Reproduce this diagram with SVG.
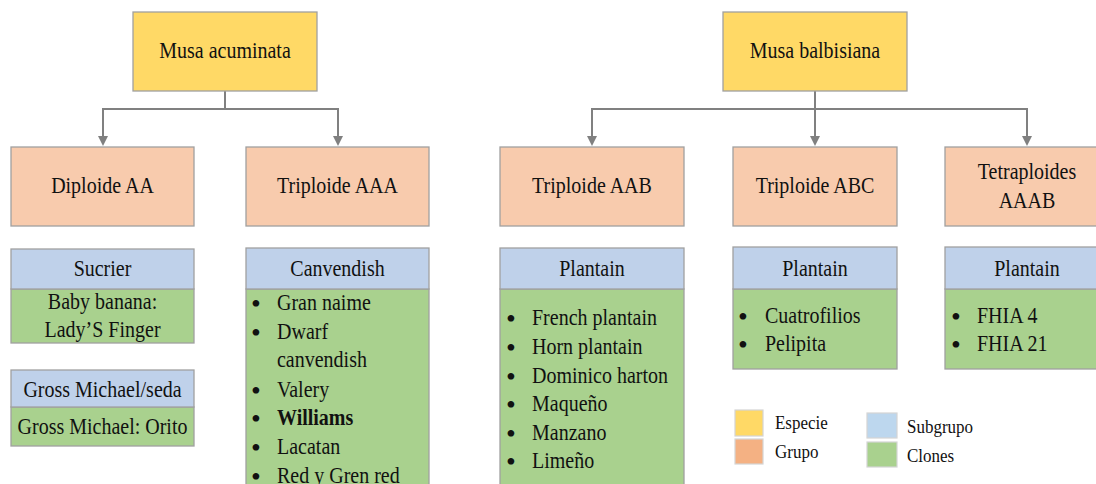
<svg xmlns="http://www.w3.org/2000/svg" width="1096" height="484" viewBox="0 0 1096 484" font-family="'Liberation Serif', 'DejaVu Serif', serif">
  <defs>
    <style>
      .box { stroke: #a0a0a0; stroke-width: 1.3; }
      .especie { fill: #ffd966; }
      .grupo { fill: #f8cbad; }
      .sub { fill: #bfd1ea; }
      .clon { fill: #a9d18e; }
      text { font-family: 'Liberation Serif', 'DejaVu Serif', serif; font-size: 20px; fill: #111; }
      .c { text-anchor: middle; }
      .b { text-anchor: middle; font-size: 28px; }
      .bold { font-weight: bold; }
      .leg { font-size: 17px; }
      .sw { stroke: #d4d4d4; stroke-width: 1.2; }
      .conn { fill: none; stroke: #808080; stroke-width: 2; }
    </style>
    <marker id="arrow" markerUnits="userSpaceOnUse" markerWidth="10" markerHeight="10" refX="4" refY="5" orient="auto">
      <path d="M0,0 L10,5 L0,10 z" fill="#808080"/>
    </marker>
  </defs>
  <rect width="1096" height="484" fill="#ffffff"/>

  <!-- connectors -->
  <g id="connectors">
    <path class="conn" d="M225,91 V109 H103 V140" marker-end="url(#arrow)"/>
    <path class="conn" d="M225,91 V109 H338 V140" marker-end="url(#arrow)"/>
    <path class="conn" d="M815,91 V109 H592 V140" marker-end="url(#arrow)"/>
    <path class="conn" d="M815,91 V140" marker-end="url(#arrow)"/>
    <path class="conn" d="M815,91 V109 H1027 V140" marker-end="url(#arrow)"/>
  </g>

  <!-- species -->
  <g id="musa-acuminata">
    <rect class="box especie" x="133" y="12" width="184" height="79"/>
    <text class="c" transform="translate(225 58) scale(1 1.15)">Musa acuminata</text>
  </g>
  <g id="musa-balbisiana">
    <rect class="box especie" x="723" y="12" width="184" height="79"/>
    <text class="c" transform="translate(815 58) scale(1 1.15)">Musa balbisiana</text>
  </g>

  <!-- groups -->
  <g id="diploide-aa">
    <rect class="box grupo" x="11" y="147" width="183" height="79"/>
    <text class="c" transform="translate(102.5 193) scale(1 1.15)">Diploide AA</text>
  </g>
  <g id="triploide-aaa">
    <rect class="box grupo" x="246" y="147" width="183" height="79"/>
    <text class="c" transform="translate(337.5 193) scale(1 1.15)">Triploide AAA</text>
  </g>
  <g id="triploide-aab">
    <rect class="box grupo" x="500" y="147" width="184" height="79"/>
    <text class="c" transform="translate(592 193) scale(1 1.15)">Triploide AAB</text>
  </g>
  <g id="triploide-abc">
    <rect class="box grupo" x="733" y="147" width="164" height="79"/>
    <text class="c" transform="translate(815 193) scale(1 1.15)">Triploide ABC</text>
  </g>
  <g id="tetraploides-aaab">
    <rect class="box grupo" x="945" y="147" width="164" height="79"/>
    <text class="c" transform="translate(1027 179) scale(1 1.15)">Tetraploides</text>
    <text class="c" transform="translate(1027 208) scale(1 1.15)">AAAB</text>
  </g>

  <!-- subgroups with clones -->
  <g id="sucrier">
    <rect class="box clon" x="11" y="289" width="183" height="54"/>
    <rect class="box sub" x="11" y="249" width="183" height="40"/>
    <text class="c" transform="translate(102.5 276) scale(1 1.15)">Sucrier</text>
    <text class="c" transform="translate(102.5 309) scale(1 1.15)">Baby banana:</text>
    <text class="c" transform="translate(102.5 337) scale(1 1.15)">Lady’S Finger</text>
  </g>
  <g id="gross-michael">
    <rect class="box clon" x="11" y="407" width="183" height="39"/>
    <rect class="box sub" x="11" y="370" width="183" height="37"/>
    <text class="c" transform="translate(102.5 397) scale(1 1.15)">Gross Michael/seda</text>
    <text class="c" transform="translate(102.5 434) scale(1 1.15)">Gross Michael: Orito</text>
  </g>
  <g id="canvendish">
    <rect class="box clon" x="246" y="289" width="183" height="200"/>
    <rect class="box sub" x="246" y="248" width="183" height="41"/>
    <text class="c" transform="translate(337.5 276) scale(1 1.15)">Canvendish</text>
    <text class="b" x="256" y="312.5">•</text>
    <text transform="translate(277 310) scale(1 1.15)">Gran naime</text>
    <text class="b" x="256" y="341.5">•</text>
    <text transform="translate(277 339) scale(1 1.15)">Dwarf</text>
    <text transform="translate(277 367) scale(1 1.15)">canvendish</text>
    <text class="b" x="256" y="399.5">•</text>
    <text transform="translate(277 397) scale(1 1.15)">Valery</text>
    <text class="b" x="256" y="427.5">•</text>
    <text class="bold" transform="translate(277 425) scale(1 1.15)">Williams</text>
    <text class="b" x="256" y="456.5">•</text>
    <text transform="translate(277 454) scale(1 1.15)">Lacatan</text>
    <text class="b" x="256" y="485.5">•</text>
    <text transform="translate(277 483) scale(1 1.15)">Red y Gren red</text>
  </g>
  <g id="plantain-aab">
    <rect class="box clon" x="500" y="289" width="184" height="200"/>
    <rect class="box sub" x="500" y="248" width="184" height="41"/>
    <text class="c" transform="translate(592 276) scale(1 1.15)">Plantain</text>
    <text class="b" x="511" y="327.5">•</text>
    <text transform="translate(532 325) scale(1 1.15)">French plantain</text>
    <text class="b" x="511" y="356.5">•</text>
    <text transform="translate(532 354) scale(1 1.15)">Horn plantain</text>
    <text class="b" x="511" y="385.5">•</text>
    <text transform="translate(532 383) scale(1 1.15)">Dominico harton</text>
    <text class="b" x="511" y="413.5">•</text>
    <text transform="translate(532 411) scale(1 1.15)">Maqueño</text>
    <text class="b" x="511" y="442.5">•</text>
    <text transform="translate(532 440) scale(1 1.15)">Manzano</text>
    <text class="b" x="511" y="470.5">•</text>
    <text transform="translate(532 468) scale(1 1.15)">Limeño</text>
  </g>
  <g id="plantain-abc">
    <rect class="box clon" x="733" y="289" width="164" height="80"/>
    <rect class="box sub" x="733" y="247" width="164" height="42"/>
    <text class="c" transform="translate(815 276) scale(1 1.15)">Plantain</text>
    <text class="b" x="743" y="325.5">•</text>
    <text transform="translate(765 323) scale(1 1.15)">Cuatrofilios</text>
    <text class="b" x="743" y="353.5">•</text>
    <text transform="translate(765 351) scale(1 1.15)">Pelipita</text>
  </g>
  <g id="plantain-aaab">
    <rect class="box clon" x="945" y="289" width="164" height="80"/>
    <rect class="box sub" x="945" y="247" width="164" height="42"/>
    <text class="c" transform="translate(1027 276) scale(1 1.15)">Plantain</text>
    <text class="b" x="956" y="325.5">•</text>
    <text transform="translate(977 323) scale(1 1.15)">FHIA 4</text>
    <text class="b" x="956" y="353.5">•</text>
    <text transform="translate(977 351) scale(1 1.15)">FHIA 21</text>
  </g>

  <!-- legend -->
  <g id="legend">
    <rect class="sw" x="735" y="410" width="28" height="26" fill="#ffd966"/>
    <rect class="sw" x="735" y="439" width="28" height="25" fill="#f4b183"/>
    <rect class="sw" x="867" y="413" width="30" height="25" fill="#bdd7ee"/>
    <rect class="sw" x="867" y="442" width="30" height="25" fill="#a9d18e"/>
    <text class="leg" transform="translate(775 429) scale(1 1.15)">Especie</text>
    <text class="leg" transform="translate(775 458) scale(1 1.15)">Grupo</text>
    <text class="leg" transform="translate(907 433) scale(1 1.15)">Subgrupo</text>
    <text class="leg" transform="translate(907 462) scale(1 1.15)">Clones</text>
  </g>
</svg>
